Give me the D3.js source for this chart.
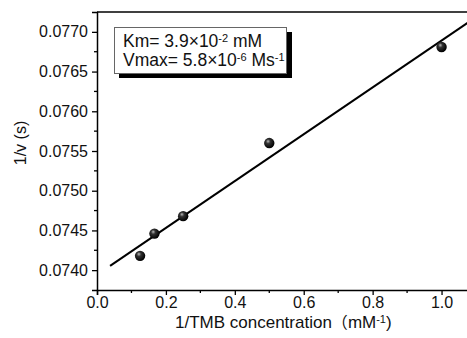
<!DOCTYPE html>
<html><head><meta charset="utf-8">
<script src="https://cdn.jsdelivr.net/npm/d3@7"></script>
<style>body{margin:0;background:#fff;}svg{display:block;font-family:"Liberation Sans",Arial,sans-serif;}</style>
</head><body>
<svg id="c" width="467" height="338"></svg>
<script>
const xValues = [0.125, 0.1667, 0.25, 0.5, 1.0];
const yValues = [0.07418, 0.07446, 0.07468, 0.07560, 0.07681];
const xTicks = [0.0, 0.2, 0.4, 0.6, 0.8, 1.0];
const yTicks = [0.0740, 0.0745, 0.0750, 0.0755, 0.0760, 0.0765, 0.0770];
const fitRange = [0.038, 1.1];

const svg = d3.select("#c");
const m = {l:97, t:12, r:476, b:290};
const x = d3.scaleLinear().domain([0, 1.1]).range([m.l, m.r]);
const y = d3.scaleLinear().domain([0.07375, 0.07725]).range([m.b, m.t]);

const defs = svg.append("defs");
const g = defs.append("radialGradient").attr("id","ball").attr("cx","40%").attr("cy","40%").attr("r","60%").attr("fx","38%").attr("fy","32%");
g.append("stop").attr("offset","0%").attr("stop-color","#bbb");
g.append("stop").attr("offset","35%").attr("stop-color","#333");
g.append("stop").attr("offset","100%").attr("stop-color","#000");

// frame top
svg.append("line").attr("x1",m.l).attr("x2",m.r).attr("y1",m.t).attr("y2",m.t).attr("stroke","#000").attr("stroke-width",1.5);

// axes
const xAxis = d3.axisBottom(x).tickValues(xTicks).tickFormat(d3.format(".1f")).tickSize(5).tickPadding(2);
const xa = svg.append("g").attr("transform",`translate(0,${m.b})`).call(xAxis);
const yAxis = d3.axisLeft(y).tickValues(yTicks).tickFormat(d3.format(".4f")).tickSize(5).tickPadding(4);
const ya = svg.append("g").attr("transform",`translate(${m.l},0)`).call(yAxis);
[xa,ya].forEach(a=>{
  a.select(".domain").attr("stroke-width",1.5);
  a.selectAll(".tick line").attr("stroke-width",1.3);
  a.selectAll(".tick text").attr("font-size",16).attr("font-family","Liberation Sans, Arial, sans-serif").attr("fill","#111");
});
// minor ticks
const xMinor = xTicks.slice(0,-1).map((d,i)=>(d+xTicks[i+1])/2);
svg.append("g").selectAll("line").data(xMinor).join("line")
  .attr("x1",d=>x(d)).attr("x2",d=>x(d)).attr("y1",m.b).attr("y2",m.b+3).attr("stroke","#000").attr("stroke-width",1.3);
const yMinor = yTicks.slice(0,-1).map((d,i)=>(d+yTicks[i+1])/2);
svg.append("g").selectAll("line").data(yMinor).join("line")
  .attr("x1",m.l-3).attr("x2",m.l).attr("y1",d=>y(d)).attr("y2",d=>y(d)).attr("stroke","#000").attr("stroke-width",1.3);

// fit line (least squares)
const mx = d3.mean(xValues), my = d3.mean(yValues);
const slope = d3.sum(xValues.map((v,i)=>(v-mx)*(yValues[i]-my))) / d3.sum(xValues.map(v=>(v-mx)*(v-mx)));
const icpt = my - slope*mx;
svg.append("line").attr("x1",x(fitRange[0])).attr("y1",y(icpt+slope*fitRange[0]))
  .attr("x2",x(fitRange[1])).attr("y2",y(icpt+slope*fitRange[1])).attr("stroke","#000").attr("stroke-width",2);

// points
svg.append("g").selectAll("circle").data(xValues).join("circle")
  .attr("cx",d=>x(d)).attr("cy",(d,i)=>y(yValues[i])).attr("r",5.2).attr("fill","url(#ball)");

// inset box
svg.append("rect").attr("x",119).attr("y",32).attr("width",173).attr("height",46).attr("fill","#000");
svg.append("rect").attr("x",114.5).attr("y",27.5).attr("width",172).attr("height",46).attr("fill","#fff").attr("stroke","#666").attr("stroke-width",1);
const t1 = svg.append("text").attr("x",123).attr("y",47).attr("font-size",17.5).attr("fill","#111");
t1.append("tspan").text("Km= 3.9×10");
t1.append("tspan").attr("baseline-shift","45%").attr("font-size",11).text("-2");
t1.append("tspan").text(" mM");
const t2 = svg.append("text").attr("x",123).attr("y",66).attr("font-size",17.5).attr("fill","#111");
t2.append("tspan").text("Vmax= 5.8×10");
t2.append("tspan").attr("baseline-shift","45%").attr("font-size",11).text("-6");
t2.append("tspan").text(" Ms");
t2.append("tspan").attr("baseline-shift","45%").attr("font-size",11).text("-1");

// axis labels
const xl = svg.append("text").attr("x",175).attr("y",328).attr("font-size",17).attr("fill","#111");
xl.append("tspan").text("1/TMB concentration");
xl.append("tspan").attr("font-family","Noto Sans CJK SC").attr("font-size",16).text("（");
xl.append("tspan").text("mM");
xl.append("tspan").attr("baseline-shift","45%").attr("font-size",11).text("-1");
xl.append("tspan").text(")");
svg.append("text").attr("transform","translate(26,143) rotate(-90)").attr("text-anchor","middle")
  .attr("font-size",16).attr("fill","#111").text("1/v (s)");
</script>
</body></html>
